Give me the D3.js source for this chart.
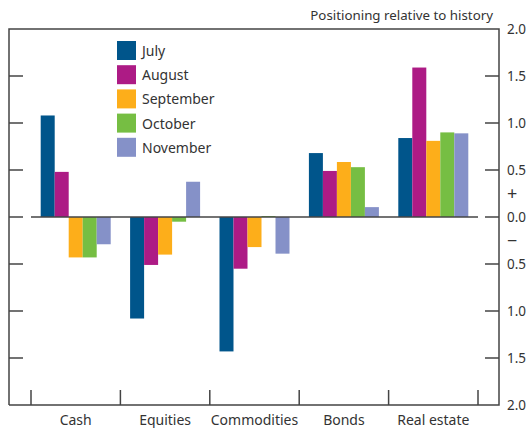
<!DOCTYPE html>
<html><head><meta charset="utf-8">
<script src="https://cdn.jsdelivr.net/npm/d3@7"></script>
<style>body{margin:0;background:#fff}svg{display:block}text{font-family:"Noto Sans",sans-serif;fill:#333}</style>
</head><body><svg id="c" width="532" height="428"></svg>
<script>
const categories = ["Cash","Equities","Commodities","Bonds","Real estate"];
const months = ["July","August","September","October","November"];
const colors = ["#00558B","#AD1B85","#FDAE1A","#76BE43","#8591C8"];
const july      = [1.08, -1.08, -1.43, 0.68, 0.84];
const august    = [0.48, -0.51, -0.55, 0.49, 1.59];
const september = [-0.43, -0.40, -0.32, 0.585, 0.81];
const october   = [-0.43, -0.05, 0.01, 0.53, 0.90];
const november  = [-0.29, 0.375, -0.39, 0.105, 0.89];
const series = [july, august, september, october, november];
const yTicks = [2.0, 1.5, 1.0, 0.5, 0.0, -0.5, -1.0, -1.5, -2.0];
const title = "Positioning relative to history";

const svg = d3.select("#c");
const L = 9, R = 499, T = 29, B = 405;
const y = d3.scaleLinear().domain([-2, 2]).range([B, T]);
const x = d3.scaleBand().domain(categories).range([31, 478]);
const xi = d3.scaleBand().domain(d3.range(5)).range([0, 70]);
const axisCol = "#444";

// bars
series.forEach((vals, s) => {
  svg.append("g").selectAll("rect").data(vals).join("rect")
    .attr("x", (d, i) => x(categories[i]) + (x.bandwidth() - 70) / 2 + xi(s))
    .attr("width", xi.bandwidth())
    .attr("y", d => y(Math.max(0, d)))
    .attr("height", d => Math.abs(y(d) - y(0)))
    .attr("fill", colors[s]);
});

// zero line
svg.append("line").attr("x1", 31).attr("x2", 478).attr("y1", y(0)).attr("y2", y(0))
  .attr("stroke", axisCol).attr("stroke-width", 1.5);

// frame
svg.append("path").attr("d", `M${L},${B}V${T}H${R}V${B}H${L}`)
  .attr("fill", "none").attr("stroke", axisCol).attr("stroke-width", 1.5);

// right axis
const rAxis = d3.axisRight(y).tickValues(yTicks).tickSize(0)
  .tickFormat(d => Math.abs(d).toFixed(1));
const rg = svg.append("g").attr("transform", `translate(${R},0)`).call(rAxis);
rg.select(".domain").remove();
rg.selectAll("text").attr("x", 8).attr("font-size", 13.5).style("font-family", '"Noto Sans",sans-serif').attr("fill", "#333");

const inner = yTicks.filter(d => Math.abs(d) < 2);
svg.append("g").selectAll("line").data(inner).join("line")
  .attr("x1", R - 14).attr("x2", R).attr("y1", d => y(d)).attr("y2", d => y(d))
  .attr("stroke", axisCol).attr("stroke-width", 1.5);
svg.append("g").selectAll("line").data(inner).join("line")
  .attr("x1", L).attr("x2", L + 14).attr("y1", d => y(d)).attr("y2", d => y(d))
  .attr("stroke", axisCol).attr("stroke-width", 1.5);

svg.append("text").attr("x", 507).attr("y", y(0.25) + 6).attr("font-size", 18).text("+");
svg.append("text").attr("x", 507).attr("y", y(-0.25) + 6).attr("font-size", 18).text("−");

// bottom axis
const bounds = categories.map(c => x(c)).concat([x.range()[1]]);
svg.append("g").selectAll("line").data(bounds).join("line")
  .attr("x1", d => d).attr("x2", d => d).attr("y1", B - 15).attr("y2", B)
  .attr("stroke", axisCol).attr("stroke-width", 1.5);
const bAxis = d3.axisBottom(x).tickSize(0);
const bg = svg.append("g").attr("transform", `translate(0,${B})`).call(bAxis);
bg.select(".domain").remove();
bg.selectAll("text").attr("y", 10).attr("font-size", 14).style("font-family", '"Noto Sans",sans-serif').attr("fill", "#333");

// title
svg.append("text").attr("x", 493).attr("y", 20).attr("text-anchor", "end").attr("font-size", 13.3).text(title);

// legend
const lg = svg.append("g").attr("transform", "translate(117,41)");
months.forEach((m, i) => {
  lg.append("rect").attr("x", 0).attr("y", i * 24.2).attr("width", 19).attr("height", 19).attr("fill", colors[i]);
  lg.append("text").attr("x", 25).attr("y", i * 24.2 + 15).attr("font-size", 14).text(m);
});
</script></body></html>
